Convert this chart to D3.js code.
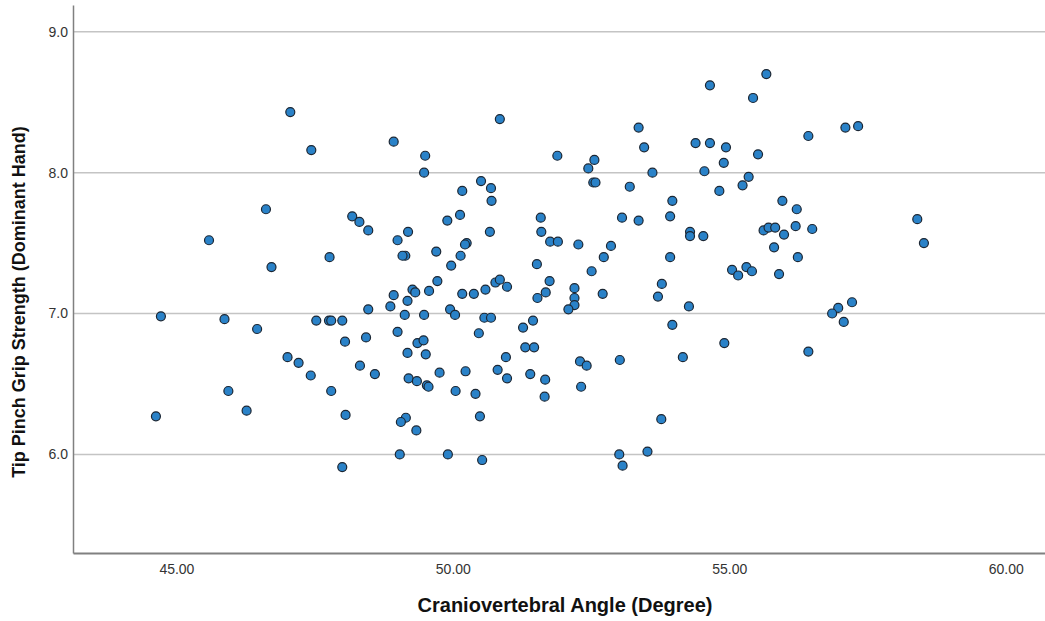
<!DOCTYPE html>
<html>
<head>
<meta charset="utf-8">
<script src="https://cdn.jsdelivr.net/npm/d3@7"></script>
<style>
  body { margin: 0; background: #fff; }
  text { font-family: "Liberation Sans", Arial, sans-serif; }
</style>
</head>
<body>
<div id="chart"></div>
<script>
// Craniovertebral angle (degree) per subject
const cvaAngle = [
  44.63, 44.72, 45.59, 45.87, 45.94, 46.27, 46.46, 46.62, 46.72, 47.06,
  47.44, 47.01, 47.21, 47.43, 47.53, 47.76, 47.80, 47.77, 47.80, 48.00,
  48.05, 48.06, 48.00, 48.18, 48.31, 48.47, 48.93, 49.50, 49.48, 50.85,
  50.51, 50.17, 50.69, 50.70, 49.90, 50.13, 49.19, 49.00, 50.67, 50.25,
  50.22, 49.70, 49.14, 49.09, 50.14, 49.97, 49.72, 50.77, 50.85, 50.98,
  48.93, 49.27, 49.32, 49.57, 50.17, 50.38, 50.59, 49.18, 48.87, 48.47,
  49.95, 50.04, 49.13, 49.48, 50.57, 50.69, 48.43, 49.00, 50.47, 51.27,
  51.45, 49.36, 49.47, 49.18, 49.51, 50.96, 51.31, 51.47, 48.32, 48.59,
  49.20, 49.35, 49.53, 49.56, 49.76, 50.23, 50.81, 50.98, 51.40, 50.05,
  50.41, 49.15, 49.06, 49.34, 50.49, 49.04, 49.91, 50.53, 51.52, 51.60,
  51.59, 51.53, 51.75, 51.68, 51.67, 51.66, 51.76, 51.90, 51.89, 52.27,
  52.86, 52.73, 52.51, 52.20, 52.20, 52.20, 52.09, 52.71, 52.45, 52.56,
  52.54, 52.58, 53.20, 53.36, 53.46, 53.61, 53.97, 53.93, 53.06, 53.36,
  53.93, 53.78, 53.71, 54.27, 53.97, 54.16, 53.02, 52.30, 52.42, 52.32,
  53.77, 53.01, 53.07, 53.52, 54.29, 54.29, 54.53, 54.39, 54.65, 54.65,
  54.55, 54.82, 54.90, 54.94, 54.91, 55.24, 55.35, 55.52, 55.43, 55.67,
  55.96, 56.22, 55.62, 55.71, 55.83, 55.99, 56.20, 56.50, 55.81, 56.24,
  55.05, 55.16, 55.31, 55.41, 55.90, 56.43, 57.10, 57.33, 57.22, 56.97,
  56.86, 57.07, 56.43, 58.40, 58.52
]

// tip pinch grip strength, dominant hand, same order
const pinchStrength = [
  6.27, 6.98, 7.52, 6.96, 6.45, 6.31, 6.89, 7.74, 7.33, 8.43,
  8.16, 6.69, 6.65, 6.56, 6.95, 6.95, 6.95, 7.40, 6.45, 6.95,
  6.80, 6.28, 5.91, 7.69, 7.65, 7.59, 8.22, 8.12, 8.00, 8.38,
  7.94, 7.87, 7.89, 7.80, 7.66, 7.70, 7.58, 7.52, 7.58, 7.50,
  7.49, 7.44, 7.41, 7.41, 7.41, 7.34, 7.23, 7.22, 7.24, 7.19,
  7.13, 7.17, 7.15, 7.16, 7.14, 7.14, 7.17, 7.09, 7.05, 7.03,
  7.03, 6.99, 6.99, 6.99, 6.97, 6.97, 6.83, 6.87, 6.86, 6.90,
  6.95, 6.79, 6.81, 6.72, 6.71, 6.69, 6.76, 6.76, 6.63, 6.57,
  6.54, 6.52, 6.49, 6.48, 6.58, 6.59, 6.60, 6.54, 6.57, 6.45,
  6.43, 6.26, 6.23, 6.17, 6.27, 6.00, 6.00, 5.96, 7.35, 7.58,
  7.68, 7.11, 7.23, 7.15, 6.53, 6.41, 7.51, 7.51, 8.12, 7.49,
  7.48, 7.40, 7.30, 7.18, 7.11, 7.06, 7.03, 7.14, 8.03, 8.09,
  7.93, 7.93, 7.90, 8.32, 8.18, 8.00, 7.80, 7.69, 7.68, 7.66,
  7.40, 7.21, 7.12, 7.05, 6.92, 6.69, 6.67, 6.66, 6.63, 6.48,
  6.25, 6.00, 5.92, 6.02, 7.58, 7.55, 7.55, 8.21, 8.62, 8.21,
  8.01, 7.87, 8.07, 8.18, 6.79, 7.91, 7.97, 8.13, 8.53, 8.70,
  7.80, 7.74, 7.59, 7.61, 7.61, 7.56, 7.62, 7.60, 7.47, 7.40,
  7.31, 7.27, 7.33, 7.30, 7.28, 8.26, 8.32, 8.33, 7.08, 7.04,
  7.00, 6.94, 6.73, 7.67, 7.50
]

const xTicks = [45, 50, 55, 60]
const yTicks = [6, 7, 8, 9]
const xDomain = [43.13, 60.71]
const yDomain = [5.30, 9.19]
const xTitle = "Craniovertebral Angle (Degree)"
const yTitle = "Tip Pinch Grip Strength (Dominant Hand)"

class Scatter {
  constructor(target) {
    this.target = target
    this.margin = { top: 5, right: 0, bottom: 68, left: 73 }
    this.width = 1045 - this.margin.left - this.margin.right
    this.height = 621 - this.margin.top - this.margin.bottom
    this.data = cvaAngle.map((a, i) => ({ angle: a, pinch: pinchStrength[i] }))
    this.draw()
  }
  createSVG() {
    this.svg = d3.select(this.target)
      .append("svg")
      .attr("width", 1045)
      .attr("height", 621)
      .append("g")
      .attr("transform", `translate(${this.margin.left},${this.margin.top})`)
  }
  X() {
    this.x = d3.scaleLinear().domain(xDomain).range([0, this.width])
    const g = this.svg.append("g")
      .attr("transform", `translate(0,${this.height})`)
      .call(d3.axisBottom(this.x)
        .tickValues(xTicks)
        .tickFormat(d3.format(".2f"))
        .tickSize(0)
        .tickPadding(11))
    g.select(".domain").attr("stroke", "#808080").attr("stroke-width", 2)
    g.selectAll("text").attr("font-size", 14).attr("fill", "#333")

    this.svg.append("text")
      .attr("x", 565 - this.margin.left)
      .attr("y", 612 - this.margin.top)
      .attr("text-anchor", "middle")
      .attr("font-size", 20)
      .attr("font-weight", "bold")
      .attr("fill", "#111")
      .text(xTitle)
  }
  Y() {
    this.y = d3.scaleLinear().domain(yDomain).range([this.height, 0])

    this.svg.append("g")
      .selectAll("line")
      .data(yTicks)
      .join("line")
      .attr("x1", 0)
      .attr("x2", this.width)
      .attr("y1", d => this.y(d))
      .attr("y2", d => this.y(d))
      .attr("stroke", "#c4c4c4")
      .attr("stroke-width", 1.5)

    const g = this.svg.append("g")
      .call(d3.axisLeft(this.y)
        .tickValues(yTicks)
        .tickFormat(d3.format(".1f"))
        .tickSize(0)
        .tickPadding(5))
    g.select(".domain").attr("stroke", "#808080").attr("stroke-width", 1.5)
    g.selectAll("text").attr("font-size", 14).attr("fill", "#333")

    this.svg.append("text")
      .attr("transform", "rotate(-90)")
      .attr("x", -(302 - this.margin.top))
      .attr("y", 25 - this.margin.left)
      .attr("text-anchor", "middle")
      .attr("font-size", 18)
      .attr("font-weight", "bold")
      .attr("fill", "#111")
      .text(yTitle)
  }
  draw() {
    this.createSVG()
    this.Y()
    this.X()

    this.svg.append("g")
      .selectAll("circle")
      .data(this.data)
      .join("circle")
      .attr("cx", d => this.x(d.angle))
      .attr("cy", d => this.y(d.pinch))
      .attr("r", 4.5)
      .attr("fill", "#2a82c8")
      .attr("stroke", "#1b2633")
      .attr("stroke-width", 1.2)
  }
}

new Scatter(document.getElementById("chart"))
</script>
</body>
</html>
